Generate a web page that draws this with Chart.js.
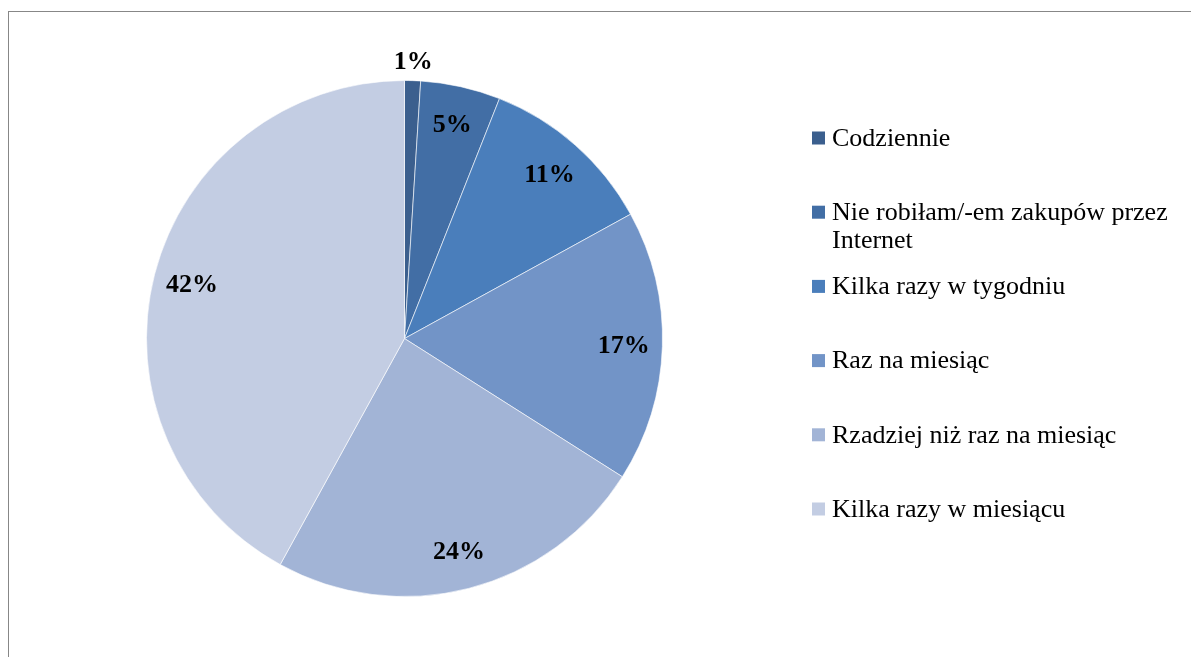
<!DOCTYPE html>
<html>
<head>
<meta charset="utf-8">
<script src="https://cdn.jsdelivr.net/npm/chart.js@4"></script>
<style>
  html, body { margin: 0; padding: 0; background: #fff; }
  #wrap { position: relative; width: 1191px; height: 657px; overflow: hidden; }
  #frame { position: absolute; left: 8px; top: 11px; width: 1300px; height: 800px;
           border: 1.5px solid #878787; box-sizing: border-box; }
  canvas { position: absolute; left: 0; top: 0; }
</style>
</head>
<body>
<div id="wrap">
  <div id="frame"></div>
  <canvas id="myChart" width="1191" height="657"></canvas>
</div>
<script>
const labels = [
  'Codziennie',
  'Nie robiłam/-em zakupów przez Internet',
  'Kilka razy w tygodniu',
  'Raz na miesiąc',
  'Rzadziej niż raz na miesiąc',
  'Kilka razy w miesiącu',
];
const percents = [1, 5, 11, 17, 24, 42];
const colors = ['#3b5f8e', '#426ea5', '#4a7ebb', '#7294c7', '#a2b4d6', '#c3cde3'];

const serif = '"Liberation Serif", "Times New Roman", serif';

// percentage labels inside the slices, tiny slices get theirs outside
const sliceLabels = {
  id: 'sliceLabels',
  afterDatasetsDraw(chart) {
    const ctx = chart.ctx;
    const meta = chart.getDatasetMeta(0);
    ctx.save();
    ctx.font = 'bold 26px ' + serif;
    ctx.fillStyle = '#000';
    ctx.textAlign = 'center';
    ctx.textBaseline = 'middle';
    meta.data.forEach((arc, i) => {
      const mid = (arc.startAngle + arc.endAngle) / 2;
      const r = percents[i] < 3 ? arc.outerRadius * 1.075 : arc.outerRadius * 0.85;
      const x = arc.x + Math.cos(mid) * r;
      const y = arc.y + Math.sin(mid) * r + 1;
      ctx.fillText(percents[i] + '%', x, y);
    });
    ctx.restore();
  }
};

// legend on the right, long entries wrap onto a second line
const sideLegend = {
  id: 'sideLegend',
  afterDraw(chart) {
    const ctx = chart.ctx;
    const x0 = 812, tx = 832, maxW = 352;
    const top = 138, step = 74.2, lineH = 28;
    ctx.save();
    ctx.font = '26px ' + serif;
    ctx.textBaseline = 'middle';
    labels.forEach((lab, i) => {
      const y = top + i * step;
      ctx.fillStyle = colors[i];
      ctx.fillRect(x0, y - 6.5, 13, 13);
      const words = lab.split(' ');
      const lines = [];
      let cur = '';
      words.forEach(w => {
        const t = cur ? cur + ' ' + w : w;
        if (ctx.measureText(t).width > maxW && cur) { lines.push(cur); cur = w; }
        else cur = t;
      });
      lines.push(cur);
      ctx.fillStyle = '#000';
      lines.forEach((ln, j) => ctx.fillText(ln, tx, y + 1 + j * lineH));
    });
    ctx.restore();
  }
};

const data = {
  labels: labels,
  datasets: [{
    data: percents,
    backgroundColor: colors,
    borderColor: 'rgba(255,255,255,0.6)',
    borderWidth: 1,
    hoverOffset: 0,
  }]
};

const config = {
  type: 'pie',
  data: data,
  options: {
    responsive: false,
    animation: false,
    layout: {
      padding: { top: 80, bottom: 60, left: 146, right: 528 }
    },
    plugins: {
      legend: { display: false },
      tooltip: { enabled: false }
    }
  },
  plugins: [sliceLabels, sideLegend]
};

const myChart = new Chart(
  document.getElementById('myChart'),
  config
);
</script>
</body>
</html>
